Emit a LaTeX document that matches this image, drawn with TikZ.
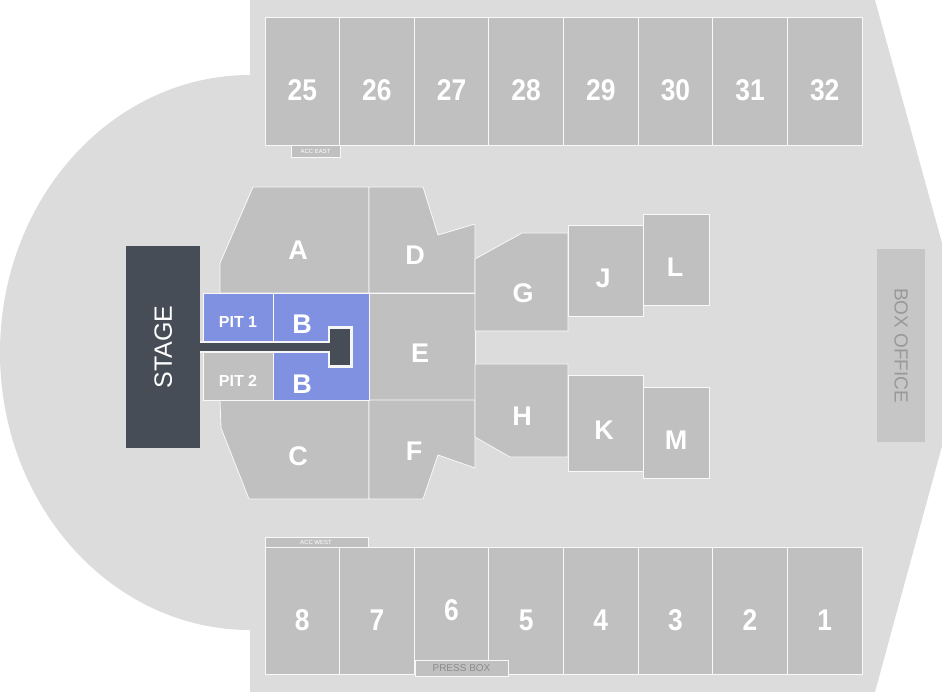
\documentclass[tikz,border=0pt]{standalone}
\usepackage{fontspec}
\setmainfont{Liberation Sans}
\definecolor{venue}{HTML}{DCDCDC}
\definecolor{sec}{HTML}{C0C0C0}
\definecolor{pit}{HTML}{7F91E0}
\definecolor{stagec}{HTML}{474D56}
\begin{document}
\begin{tikzpicture}[x=1pt,y=-1pt,
  secbox/.style={fill=sec,draw=white!90!sec,line width=0.8pt},
  bluebox/.style={fill=pit,draw=white!90!sec,line width=0.8pt},
  lbl/.style={text=white,font=\bfseries\fontsize{27}{27}\selectfont},
  num/.style={text=white,xscale=0.88,font=\bfseries\fontsize{30}{30}\selectfont},
  tiny/.style={text=white,font=\fontsize{6}{6}\selectfont,inner sep=0pt}]
\useasboundingbox (0,0) rectangle (942,692);
% venue
\fill[venue] (250,352.5) ellipse[x radius=250,y radius=277.5];
\fill[venue] (250,0) -- (875,0) -- (942,243) -- (942,446) -- (875,692) -- (250,692) -- cycle;
% stage
\node[fill=stagec,minimum width=74pt,minimum height=202pt,inner sep=0pt,anchor=north west] (stage) at (126,246) {};
\node[rotate=90,text=white,font=\fontsize{25}{25}\selectfont] at (stage.center) {STAGE};
% box office
\node[fill=sec!80!venue,minimum width=48pt,minimum height=193pt,inner sep=0pt,anchor=north west] (box) at (877,249) {};
\node[rotate=-90,text=gray!80,font=\fontsize{19}{19}\selectfont] at (box.center) {BOX OFFICE};
% upper and lower rows
\foreach \n [count=\i from 0] in {25,26,27,28,29,30,31,32}{
  \pgfmathsetmacro\xa{265+74.625*\i}
  \draw[secbox] (\xa,17) rectangle ++(74.625,128);
  \node[num] at (\xa+37.3,90) {\n};
}
\foreach \n [count=\i from 0] in {8,7,6,5,4,3,2,1}{
  \pgfmathsetmacro\xa{265+74.625*\i}
  \draw[secbox] (\xa,547) rectangle ++(74.625,127);
  \pgfmathsetmacro\yy{\n==6 ? 610 : 620}
  \node[num] at (\xa+37.3,\yy) {\n};
}
\draw[secbox,line width=0.5pt] (291,145) rectangle (340,157);
\node[tiny] at (315.5,151.5) {ACC EAST};
\draw[secbox,line width=0.5pt] (265,537) rectangle (368,547);
\node[tiny] at (316,542.5) {ACC WEST};
\draw[secbox,line width=0.5pt] (415,660) rectangle (508,676);
\node[text=gray!90,font=\fontsize{10}{10}\selectfont] at (461.5,668) {PRESS BOX};
% floor sections
\draw[secbox] (253,187) -- (369,187) -- (369,293) -- (220,293) -- (220,263) -- cycle;
\draw[secbox] (369,187) -- (423,187) -- (438,235) -- (475,224) -- (475,293) -- (369,293) -- cycle;
\draw[secbox] (369,293) rectangle (475,400);
\draw[secbox] (220,400) -- (369,400) -- (369,499) -- (249,499) -- (221,428) -- cycle;
\draw[secbox] (369,400) -- (475,400) -- (475,468) -- (438,455) -- (423,499) -- (369,499) -- cycle;
\draw[secbox] (475,259) -- (522,233) -- (568,233) -- (568,331) -- (475,331) -- cycle;
\draw[secbox] (568,225) rectangle (643,316);
\draw[secbox] (643,214) rectangle (709,305);
\draw[secbox] (475,364) -- (568,364) -- (568,457) -- (510,457) -- (475,437) -- cycle;
\draw[secbox] (568,375) rectangle (643,471);
\draw[secbox] (643,387) rectangle (709,478);
\draw[bluebox] (273,293) rectangle (369,400);
\draw[bluebox] (203,293) rectangle (273,342);
\draw[secbox] (203,352) rectangle (273,400);
% runway
\fill[white!85!sec] (200,341) rectangle (331,353);
\fill[white!85!sec] (328,326) rectangle (353,368);
\fill[stagec] (200,343) rectangle (333,351);
\fill[stagec] (330,329) rectangle (350,365);
% labels
\node[lbl] at (298,250) {A};
\node[lbl] at (415,255) {D};
\node[lbl] at (523,293) {G};
\node[lbl] at (603,278) {J};
\node[lbl] at (675,267) {L};
\node[lbl] at (420,353) {E};
\node[lbl] at (522,416) {H};
\node[lbl] at (604,430) {K};
\node[lbl] at (676,440) {M};
\node[lbl] at (298,456) {C};
\node[lbl] at (414,451) {F};
\node[lbl] at (302,324) {B};
\node[lbl] at (302,384) {B};
\node[text=white,font=\bfseries\fontsize{16}{16}\selectfont] at (238,322) {PIT 1};
\node[text=white,font=\bfseries\fontsize{16}{16}\selectfont] at (238,381) {PIT 2};
\end{tikzpicture}
\end{document}
